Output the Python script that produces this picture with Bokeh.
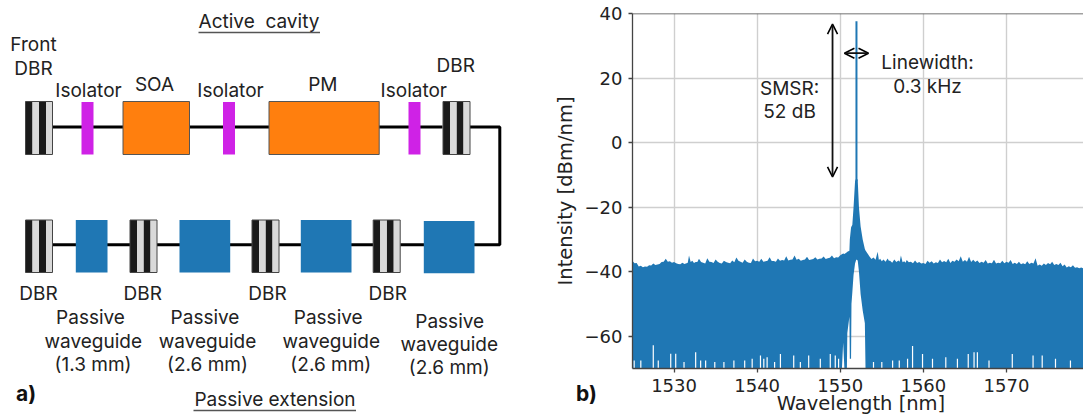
from bokeh.plotting import figure
from bokeh.embed import file_html
from bokeh.resources import INLINE
from bokeh.models import Arrow, OpenHead, Span, FixedTicker
from bokeh.core.properties import value

# ---------- spectrum (panel b) ----------
left_wl = [1525, 1525.5, 1526, 1526.5, 1527, 1527.5, 1528, 1528.5, 1529, 1529.5, 1530, 1530.5, 1531, 1531.5, 1531.8, 1532.2,
           1532.6, 1533, 1533.5, 1534, 1534.5, 1535, 1535.5, 1536, 1536.5, 1537, 1537.5, 1538, 1538.5, 1539, 1539.5, 1540,
           1540.5, 1541, 1541.5, 1542, 1542.5, 1543, 1543.5, 1544, 1544.5, 1545, 1545.5, 1546, 1546.5, 1547, 1547.5, 1548,
           1548.5, 1549, 1549.5, 1550]
left_top = [-36.7, -37.3, -38.2, -38.4, -38.0, -37.5, -37.8, -37.0, -36.0, -36.8, -37.0, -37.6, -37.2, -37.4, -35.0, -36.6,
            -37.0, -36.0, -37.2, -35.8, -37.0, -36.2, -37.3, -36.6, -37.2, -36.5, -35.6, -36.9, -36.2, -37.2, -35.9, -36.6,
            -36.0, -36.8, -35.5, -36.7, -35.9, -36.4, -35.2, -36.3, -35.0, -36.0, -36.4, -35.4, -36.2, -35.5, -36.0, -35.3,
            -35.8, -35.0, -35.5, -34.9]
left_dip_wl = [1525.25, 1525.75, 1526.25, 1526.75, 1527.25, 1527.75, 1528.25, 1528.75, 1529.25, 1529.75, 1530.25, 1530.75,
               1531.25, 1531.65, 1532.0, 1532.4, 1532.8, 1533.25, 1533.75, 1534.25, 1534.75, 1535.25, 1535.75, 1536.25,
               1536.75, 1537.25, 1537.75, 1538.25, 1538.75, 1539.25, 1539.75, 1540.25, 1540.75, 1541.25, 1541.75, 1542.25,
               1542.75, 1543.25, 1543.75, 1544.25, 1544.75, 1545.25, 1545.75, 1546.25, 1546.75, 1547.25, 1547.75, 1548.25,
               1548.75, 1549.25, 1549.75]
left_dip = [-37.4, -38.4, -38.6, -38.5, -38.1, -37.9, -37.6, -36.9, -36.9, -37.2, -37.4, -37.7, -37.6, -37.2, -37.0, -37.3,
            -37.0, -37.0, -37.5, -36.9, -37.3, -36.9, -37.5, -37.0, -37.4, -37.1, -36.6, -37.2, -36.9, -37.3, -36.8, -36.9,
            -36.9, -36.6, -36.7, -36.9, -36.6, -36.5, -36.5, -36.2, -36.3, -36.6, -36.2, -36.4, -36.1, -36.2, -35.9, -36.1,
            -35.7, -35.8, -35.6]
centre_wl = [1550.2, 1550.35, 1550.5, 1550.8, 1550.85, 1551.1, 1551.15, 1551.3, 1551.35, 1551.45, 1551.6, 1551.78, 1551.93,
             1552.1, 1552.25, 1552.45, 1552.7, 1552.96, 1553.04]
centre_top = [-34.6, -34.4, -34.5, -34.0, -33.8, -33.5, -30, -26.3, -26, -25.5, -20, -12, -11, -11.5, -20, -26, -30,
              -33, -33.4]
centre_low = [-70, -62, -70, -70, -59, -54, -67, -67, -50, -46.5, -41, -37.5, -36.2, -36.5, -40, -47, -52, -56, -70]
right_wl = [1553.5, 1554, 1554.5, 1554.8, 1555.2, 1555.7, 1556, 1556.5, 1557, 1557.3, 1557.7, 1558, 1558.5, 1559, 1559.5, 1560,
            1560.5, 1561, 1561.5, 1562, 1562.5, 1563, 1563.5, 1564, 1564.5, 1565, 1565.5, 1566, 1566.5, 1567, 1567.5, 1568,
            1568.5, 1569, 1569.5, 1570, 1570.5, 1571, 1571.5, 1572, 1572.5, 1573, 1573.5, 1574, 1574.5, 1575, 1575.5, 1576,
            1576.5, 1577, 1577.5, 1578, 1578.5, 1579, 1579.5]
right_top = [-35.2, -35.6, -33.8, -36.0, -36.2, -35.9, -36.6, -36.2, -36.5, -35.0, -36.8, -36.4, -36.9, -36.5, -37.0, -37.3,
             -36.6, -36.8, -37.1, -36.2, -36.7, -36.0, -36.6, -36.2, -35.2, -36.4, -35.4, -36.3, -36.5, -36.9, -36.4, -37.2,
             -36.3, -37.2, -36.6, -36.9, -36.4, -37.2, -36.9, -37.4, -36.8, -37.2, -35.8, -37.8, -37.5, -37.3, -36.9, -37.6,
             -37.2, -37.8, -38.3, -38.0, -38.6, -38.7, -38.8]
right_dip_wl = [1553.75, 1554.25, 1554.65, 1555.0, 1555.45, 1555.85, 1556.25, 1556.75, 1557.15, 1557.5, 1557.85, 1558.25,
                1558.75, 1559.25, 1559.75, 1560.25, 1560.75, 1561.25, 1561.75, 1562.25, 1562.75, 1563.25, 1563.75, 1564.25,
                1564.75, 1565.25, 1565.75, 1566.25, 1566.75, 1567.25, 1567.75, 1568.25, 1568.75, 1569.25, 1569.75, 1570.25,
                1570.75, 1571.25, 1571.75, 1572.25, 1572.75, 1573.25, 1573.75, 1574.25, 1574.75, 1575.25, 1575.75, 1576.25,
                1576.75, 1577.25, 1577.75, 1578.25, 1578.75, 1579.25]
right_dip = [-36.1, -36.3, -36.4, -36.8, -36.9, -36.6, -37.2, -37.0, -36.9, -37.1, -37.2, -37.1, -37.4, -37.3, -37.5, -37.6,
             -37.2, -37.5, -37.3, -37.1, -37.1, -37.3, -36.9, -36.8, -36.9, -36.9, -37.0, -37.0, -37.3, -37.2, -37.5, -37.4,
             -37.5, -37.4, -37.4, -37.2, -37.6, -37.6, -37.7, -37.7, -37.6, -37.5, -38.2, -38.2, -37.9, -37.7, -37.9, -37.9,
             -38.3, -38.7, -38.6, -38.8, -38.9, -39.0]
peak_wl = [1551.95, 1551.95]
peak_db = [-12, 37.6]
gap_wl = [1525.2, 1526, 1527.5, 1528.1, 1529.6, 1530.2, 1531.2, 1532.6, 1533.2, 1533.8, 1534.9, 1536, 1537.2, 1538.5, 1539.4,
          1540.4, 1540.8, 1541.2, 1542.1, 1542.8, 1544.4, 1545.2, 1546.2, 1547.6, 1548.8, 1549.4, 1549.8,
          1554, 1555, 1556.3, 1557.1, 1558.1, 1558.7, 1559.9, 1561.1, 1562.7, 1564.1, 1565.4, 1566.1, 1566.5, 1567.9, 1570.7,
          1573.2, 1574.3, 1575.9, 1577.7]
gap_top = [-67.5, -67.5, -62.8, -67.5, -65.4, -65.4, -68, -65, -67.5, -67.5, -68, -68, -67.5, -67.5, -67,
           -66, -67, -66.5, -68, -65.5, -66, -68, -66, -67, -65.5, -66, -67,
           -68, -68, -67.5, -67.5, -67, -63, -65.5, -67, -66.5, -67, -65.5, -65, -65, -67.5, -65.5,
           -66, -66, -67, -67.5]
x_ticks = [1530, 1540, 1550, 1560, 1570]
y_ticks = [-60, -40, -20, 0, 20, 40]
y_tick_labels = {-60: "−60", -40: "−40", -20: "−20", 0: "0", 20: "20", 40: "40"}

merged = sorted(
    [(w, -70, t) for w, t in zip(left_wl + left_dip_wl + right_wl + right_dip_wl, left_top + left_dip + right_top + right_dip)]
    + [(w, l, t) for w, l, t in zip(centre_wl, centre_low, centre_top)]
)
spec_wl = [m[0] for m in merged]
spec_low = [m[1] for m in merged]
spec_top = [m[2] for m in merged]

# ---------- schematic (panel a) ----------
FONT = "Inter"
INK = "#222222"
ORANGE = "#ff7f0e"
BLUE = "#1f77b4"
MAGENTA = "#cf22e6"
TEXT_SIZE = "19px"

a = figure(width=1083, height=414, x_range=(0, 1083), y_range=(414, 0), x_axis_type=None, y_axis_type=None,
           output_backend="svg", toolbar_location=None, min_border=0, outline_line_color=None,
           styles={"position": "absolute", "left": "0px", "top": "0px"})
a.grid.visible = False

TOP = (101, 154, 126.5)
BOT = (219.5, 272, 244.3)

# wires, each between two neighbouring parts
a.line([52, 442], [TOP[2]] * 2, line_color="black", line_width=3)
a.line([469, 499.3, 499.3, 399.7], [TOP[2], TOP[2], BOT[2], BOT[2]], line_color="black", line_width=3)
a.segment(x0=[52, 156.5, 278.5], y0=[BOT[2]] * 3, x1=[129.5, 251.5, 372.7], y1=[BOT[2]] * 3, line_color="black", line_width=3)


def dbr(x, ys):
    a.quad(left=[x, x + 13.5], right=[x + 7, x + 20.5], top=[ys[0]] * 2, bottom=[ys[1]] * 2, fill_color="#1a1a1a", line_color=None)
    a.quad(left=[x + 7, x + 20.5], right=[x + 13.5, x + 27], top=[ys[0]] * 2, bottom=[ys[1]] * 2, fill_color="#d9d9d9", line_color=None)
    a.quad(left=[x], right=[x + 27], top=[ys[0]], bottom=[ys[1]], fill_color=None, line_color="#444444", line_width=1)


for x0 in (25, 442.5):
    dbr(x0, TOP)
for x0 in (25, 129.5, 251.5, 372.7):
    dbr(x0, BOT)

a.quad(left=[81, 222.5, 408], right=[93, 234.5, 420], top=[101.5] * 3, bottom=[154] * 3, fill_color=MAGENTA, line_color=None)
a.quad(left=[122.5, 268.5], right=[189, 378.7], top=[101] * 2, bottom=[154] * 2, fill_color=ORANGE, line_color="#555555", line_width=1)
a.quad(left=[75.3, 179, 300.3], right=[107, 229.7, 351], top=[219.5] * 3, bottom=[272] * 3, fill_color=BLUE, line_color=None)
a.quad(left=[423.3], right=[474], top=[220.5], bottom=[272.7], fill_color=BLUE, line_color=None)

a.line([198, 319.5], [32, 32], line_color="#555555", line_width=1.5)
a.line([193, 355.5], [410, 410], line_color="#555555", line_width=1.5)

schem_labels = [
    ("Active\u00a0 cavity", 258.5, 21), ("Front", 33, 44), ("DBR", 33, 67.5),
    ("Isolator", 88, 89.5), ("SOA", 154, 83.5), ("Isolator", 230, 89.5), ("PM", 322.3, 83.5),
    ("Isolator", 413.3, 89.5), ("DBR", 455.3, 65),
    ("DBR", 38, 292.7), ("DBR", 142.3, 292.7), ("DBR", 267, 292.7), ("DBR", 387.3, 292.7),
    ("Passive", 90, 317.3), ("waveguide", 92.8, 340.7), ("(1.3 mm)", 92.5, 363.5),
    ("Passive", 204.5, 317.3), ("waveguide", 207, 340.7), ("(2.6 mm)", 207, 363.5),
    ("Passive", 327.7, 317.3), ("waveguide", 330.7, 340.7), ("(2.6 mm)", 330.3, 363.5),
    ("Passive", 449.2, 320.5), ("waveguide", 448.7, 343.7), ("(2.6 mm)", 448.7, 366.7),
    ("Passive extension", 274.5, 399),
]
a.text(x=[t[1] for t in schem_labels], y=[t[2] for t in schem_labels], text=[t[0] for t in schem_labels],
       text_font=value(FONT), text_font_size=TEXT_SIZE, text_color=INK, text_align="center", text_baseline="middle")
a.text(x=[25.5, 586], y=[392.7, 392.7], text=["a)", "b)"], text_font=value(FONT), text_font_size="21px", text_font_style="bold",
       text_color="#111111", text_align="center", text_baseline="middle")
a.text(x=[860.5], y=[402.5], text=["Wavelength [nm]"], text_font=value("DejaVu Sans"), text_font_size="19.5px", text_color=INK,
       text_align="center", text_baseline="middle")

# ---------- spectrum figure ----------
b = figure(width=535, height=414, x_range=(1525, 1579.27), y_range=(-70, 40), output_backend="svg", toolbar_location=None,
           min_border_left=84, min_border_right=0, min_border_top=13, min_border_bottom=46, outline_line_color=None,
           background_fill_color=None, border_fill_color=None,
           y_axis_label="Intensity [dBm/nm]",
           styles={"position": "absolute", "left": "548px", "top": "0px"})
b.xaxis.ticker = FixedTicker(ticks=x_ticks)
b.yaxis.ticker = FixedTicker(ticks=y_ticks)
b.yaxis.major_label_overrides = y_tick_labels
for ax in (b.xaxis[0], b.yaxis[0]):
    ax.major_label_text_font = "DejaVu Sans"
    ax.major_label_text_font_size = "18px"
    ax.major_label_text_color = INK
    ax.axis_label_text_font = "DejaVu Sans"
    ax.axis_label_text_font_size = "19.5px"
    ax.axis_label_text_font_style = "normal"
    ax.axis_label_text_color = INK
    ax.axis_line_color = "#444444"
    ax.axis_line_width = 1.3
    ax.major_tick_line_color = "#444444"
    ax.major_tick_line_width = 1.3
    ax.major_tick_in = 0
    ax.major_tick_out = 4
    ax.minor_tick_line_color = None
    ax.major_label_standoff = 6
b.yaxis.axis_label_standoff = 5
b.grid.grid_line_color = "#cfcfcf"
b.grid.grid_line_width = 1.4
b.add_layout(Span(location=40, dimension="width", line_color="#444444", line_width=1.3))

b.varea(x=spec_wl, y1=spec_low, y2=spec_top, fill_color=BLUE)
b.segment(x0=gap_wl, y0=[-70] * len(gap_wl), x1=gap_wl, y1=gap_top, line_color="white", line_width=1.2)
b.line(peak_wl, peak_db, line_color=BLUE, line_width=2)

b.add_layout(Arrow(start=OpenHead(size=10, line_width=1.6), end=OpenHead(size=10, line_width=1.6),
                   x_start=1549.07, x_end=1549.07, y_start=-10.6, y_end=36.7, line_width=1.8, line_color="#111111"))
b.add_layout(Arrow(start=OpenHead(size=10, line_width=1.6), end=OpenHead(size=10, line_width=1.6),
                   x_start=1550.5, x_end=1553.4, y_start=27.7, y_end=27.7, line_width=1.8, line_color="#111111"))
b.text(x=[1543.9, 1543.9, 1560.5, 1560.5], y=[16.8, 9.6, 24.9, 17.4], text=["SMSR:", "52 dB", "Linewidth:", "0.3 kHz"],
       text_font=value(FONT), text_font_size=TEXT_SIZE, text_color=INK, text_align="center", text_baseline="middle")

open("out.html", "w").write(file_html([a, b], INLINE))
